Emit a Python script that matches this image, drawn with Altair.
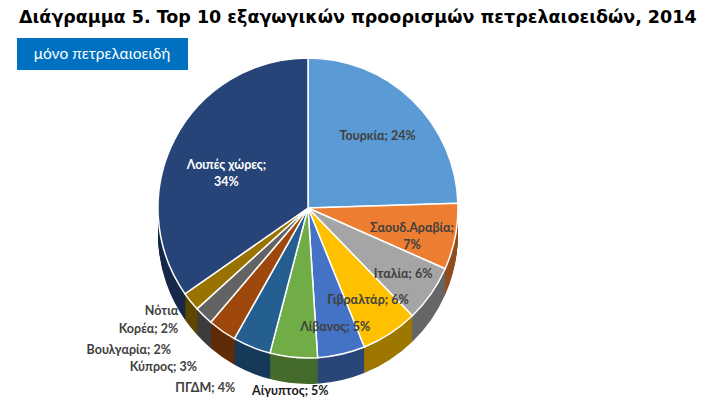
import altair as alt
import pandas as pd

title_text = "Διάγραμμα 5. Top 10 εξαγωγικών προορισμών πετρελαιοειδών, 2014"
button_text = "μόνο πετρελαιοειδή"

countries = ["Τουρκία", "Σαουδ.Αραβία", "Ιταλία", "Γιβραλτάρ", "Λίβανος", "Αίγυπτος",
             "ΠΓΔΜ", "Κύπρος", "Βουλγαρία", "Νότια Κορέα", "Λοιπές χώρες"]
shares = [24, 7, 6, 6, 5, 5, 4, 3, 2, 2, 34]
labels = ["Τουρκία; 24%", "Σαουδ.Αραβία;\n7%", "Ιταλία; 6%", "Γιβραλτάρ; 6%", "Λίβανος; 5%",
          "Αίγυπτος; 5%", "ΠΓΔΜ; 4%", "Κύπρος; 3%", "Βουλγαρία; 2%", "Νότια\nΚορέα; 2%",
          "Λοιπές χώρες;\n34%"]
colors = ["#5B9BD5", "#ED7D31", "#A5A5A5", "#FFC000", "#4472C4", "#70AD47",
          "#255E91", "#9E480E", "#636363", "#997300", "#264478"]
label_colors = ["#404040", "#404040", "#404040", "#404040", "#404040", "#1a1a1a",
                "#404040", "#404040", "#404040", "#404040", "#ffffff"]


def darken(hex_color, f=0.62):
    h = hex_color.lstrip("#")
    r, g, b = (int(h[i:i + 2], 16) for i in (0, 2, 4))
    return "#{:02x}{:02x}{:02x}".format(int(r * f), int(g * f), int(b * f))


# label placement (layout only): distance of each label from the pie centre
inner_radius = {"Τουρκία": 100, "Σαουδ.Αραβία": 106, "Ιταλία": 116, "Γιβραλτάρ": 110,
                "Λίβανος": 122, "Λοιπές χώρες": 92}
outer_radius = {"ΠΓΔΜ": 194, "Κύπρος": 194, "Βουλγαρία": 197, "Νότια Κορέα": 166}
below_radius = {"Αίγυπτος": 184}

df = pd.DataFrame({
    "country": countries,
    "share": shares,
    "order": list(range(len(countries))),
    "top": colors,
    "side": [darken(c) for c in colors],
    "lc": label_colors,
    "label": labels,
})
lr = {}
lr.update(inner_radius)
lr.update(outer_radius)
lr.update(below_radius)
df["lr"] = [lr[c] for c in countries]
df["kind"] = ["inner" if c in inner_radius else ("outer" if c in outer_radius else "below")
              for c in countries]

CX, CY, R, DEPTH = 300, 200, 150, 26
FONT = "Lato"
FS = 12.5

theta = alt.Theta("share:Q", stack=True)
order = alt.Order("order:Q", sort="ascending")

base = alt.Chart(df)
layers = []
# extruded side of the "3D" pie
steps = 22
for i in range(steps, 0, -1):
    d = DEPTH * i / steps
    layers.append(
        base.mark_arc(radius=R).encode(
            theta=theta, order=order,
            color=alt.Color("side:N", scale=None),
            x=alt.value(CX), y=alt.value(CY + d),
        )
    )
# top face
layers.append(
    base.mark_arc(radius=R, stroke="white", strokeWidth=1.5).encode(
        theta=theta, order=order,
        color=alt.Color("top:N", scale=None),
        x=alt.value(CX), y=alt.value(CY),
    )
)

# label angles computed from the shares (mid-angle of each slice, radians)
lab = base.transform_joinaggregate(
    total="sum(share)"
).transform_window(
    cum="sum(share)", sort=[alt.SortField("order", order="ascending")]
).transform_calculate(
    mid="(datum.cum - datum.share / 2) / datum.total * 2 * PI"
)
ltheta = alt.Theta("mid:Q", scale=None)
lrad = alt.Radius("lr:Q", scale=None)

layers.append(
    lab.transform_filter("datum.kind == 'inner'").mark_text(
        font=FONT, fontWeight="bold", fontSize=FS, lineBreak="\n", lineHeight=17
    ).encode(
        theta=ltheta, radius=lrad, text="label:N",
        color=alt.Color("lc:N", scale=None),
        x=alt.value(CX), y=alt.value(CY),
    )
)
layers.append(
    lab.transform_filter("datum.kind == 'outer'").mark_text(
        font=FONT, fontWeight="bold", fontSize=FS, lineBreak="\n", lineHeight=18,
        align="right", color="#404040"
    ).encode(
        theta=ltheta, radius=lrad, text="label:N",
        x=alt.value(CX), y=alt.value(CY),
    )
)
layers.append(
    lab.transform_filter("datum.kind == 'below'").mark_text(
        font=FONT, fontWeight="bold", fontSize=FS, color="#1a1a1a"
    ).encode(
        theta=ltheta, radius=lrad, text="label:N",
        x=alt.value(CX), y=alt.value(CY),
    )
)

one = pd.DataFrame({"t": [title_text], "b": [button_text]})
layers.append(
    alt.Chart(one).mark_text(font="DejaVu Sans", fontWeight="bold", fontSize=17.5,
                             align="left", baseline="middle", color="#000000").encode(
        text="t:N", x=alt.value(11), y=alt.value(10)
    )
)
layers.append(
    alt.Chart(one).mark_rect(color="#0070C0").encode(
        x=alt.value(9), x2=alt.value(180), y=alt.value(30), y2=alt.value(62)
    )
)
layers.append(
    alt.Chart(one).mark_text(font=FONT, fontSize=15.5, color="white",
                             align="center", baseline="middle").encode(
        text="b:N", x=alt.value(94), y=alt.value(46)
    )
)

chart = alt.layer(*layers).properties(
    width=711, height=400, autosize="none", padding=0
).configure_view(stroke=None)

chart.save("out.html", embed_options={"renderer": "svg", "actions": False})
